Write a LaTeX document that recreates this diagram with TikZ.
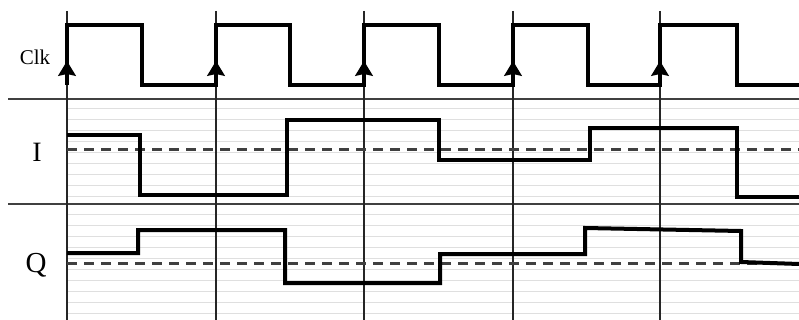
\documentclass[tikz,border=0pt]{standalone}
\usepackage{fontspec}
\setmainfont{Liberation Serif}
\usetikzlibrary{arrows.meta}

\tikzset{
  wave/.style={line width=4pt, line join=miter},
  ruling/.style={gray!25, line width=0.8pt},
  edgeline/.style={black!85, line width=1.4pt},
  divider/.style={black!75, line width=1.6pt},
  midlevel/.style={black!75, line width=3pt, dash pattern=on 10pt off 7pt},
  edgetip/.style={line width=1.4pt, -{Stealth[length=15pt,width=18pt,inset=2pt]}},
}

\begin{document}
\begin{tikzpicture}[x=1pt,y=-1pt]
\useasboundingbox (0,0) rectangle (799,320);

% faint ruling behind I and Q
\foreach \y in {108,119,...,200} \draw[ruling] (67,\y) -- (799,\y);
\foreach \y in {214,225,...,318} \draw[ruling] (67,\y) -- (799,\y);

% panel dividers
\draw[divider] (8,99) -- (799,99);
\draw[divider] (8,204) -- (799,204);

% clock edges
\foreach \x [count=\i] in {67,216,364,513,660} {
  \coordinate (top\i) at (\x,11);
  \coordinate (bot\i) at (\x,320);
  \draw[edgeline] (top\i) -- (bot\i);
}

% labels
\node[font=\fontsize{21}{21}\selectfont, anchor=base] (clk) at (35,65) {Clk};
\node[font=\fontsize{28}{28}\selectfont, anchor=base] (ilab) at (37,162) {I};
\node[font=\fontsize{29}{29}\selectfont, anchor=base] (qlab) at (36,272) {Q};

% reference levels
\draw[midlevel] (67,150) -- (799,150);
\draw[midlevel] (67,263) -- (799,263);

% Clk
\draw[wave] (67,85) -- (67,25) -- (142,25) -- (142,85) -- (216,85) -- (216,25)
  -- (290,25) -- (290,85) -- (364,85) -- (364,25) -- (439,25) -- (439,85)
  -- (513,85) -- (513,25) -- (588,25) -- (588,85) -- (660,85) -- (660,25)
  -- (737,25) -- (737,85) -- (799,85);
\foreach \x in {67,216,364,513,660}
  \draw[edgetip] (\x,85) -- (\x,61);

% I
\draw[wave] (67,135) -- (140,135) -- (140,195) -- (287,195) -- (287,120)
  -- (439,120) -- (439,160) -- (590,160) -- (590,128) -- (737,128)
  -- (737,197) -- (799,197);

% Q
\draw[wave] (67,253) -- (138,253) -- (138,230) -- (285,230) -- (285,283)
  -- (440,283) -- (440,254) -- (585,254) -- (585,228) -- (741,231)
  -- (741,262) -- (799,264);
\end{tikzpicture}
\end{document}
